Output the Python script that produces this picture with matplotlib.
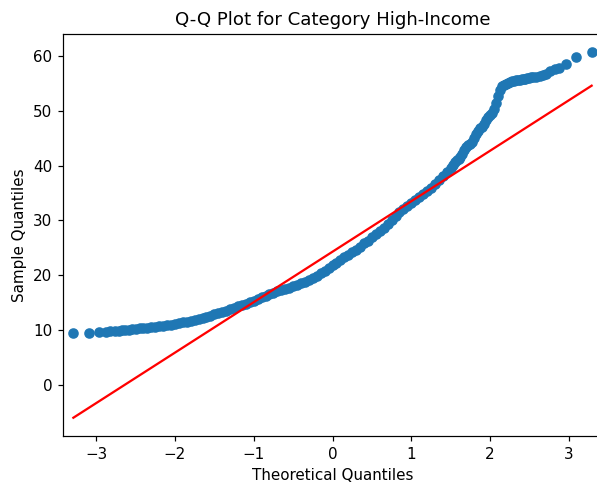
import numpy as np
import matplotlib
matplotlib.use("Agg")
import matplotlib.pyplot as plt

# Theoretical (standard normal) quantiles and the matching sorted sample values
theoretical_q = [
    -3.29, -3.09, -2.97, -2.88, -2.82, -2.76, -2.71, -2.67, -2.63, -2.59,
    -2.55, -2.50, -2.45, -2.40, -2.35, -2.30, -2.25, -2.20, -2.15, -2.10,
    -2.05, -2.00, -1.95, -1.90, -1.85, -1.80, -1.75, -1.70, -1.65, -1.60,
    -1.55, -1.50, -1.45, -1.40, -1.35, -1.30, -1.25, -1.20, -1.15, -1.10,
    -1.05, -1.00, -0.95, -0.90, -0.85, -0.80, -0.75, -0.70, -0.65, -0.60,
    -0.55, -0.50, -0.45, -0.40, -0.35, -0.30, -0.25, -0.20, -0.15, -0.10,
    -0.05, 0.00, 0.05, 0.10, 0.15, 0.20, 0.25, 0.30, 0.35, 0.40,
    0.45, 0.50, 0.55, 0.60, 0.65, 0.70, 0.75, 0.80, 0.85, 0.90,
    0.95, 1.00, 1.05, 1.10, 1.15, 1.20, 1.25, 1.30, 1.35, 1.40,
    1.45, 1.500, 1.525, 1.550, 1.575, 1.600, 1.625, 1.650, 1.675, 1.700,
    1.725, 1.750, 1.775, 1.800, 1.825, 1.850, 1.875, 1.900, 1.925, 1.950,
    1.975, 2.000, 2.025, 2.050, 2.075, 2.100, 2.125, 2.150, 2.175, 2.200,
    2.225, 2.250, 2.275, 2.300, 2.325, 2.350, 2.375, 2.400, 2.425, 2.450,
    2.475, 2.500, 2.525, 2.550, 2.59, 2.63, 2.67, 2.71, 2.76, 2.82,
    2.88, 2.97, 3.09, 3.29,
]

sample_q = [
    9.50, 9.50, 9.65, 9.70, 9.75, 9.80, 9.90, 9.95, 10.00, 10.10,
    10.15, 10.20, 10.30, 10.35, 10.45, 10.50, 10.60, 10.70, 10.80, 10.90,
    11.00, 11.10, 11.25, 11.40, 11.55, 11.70, 11.90, 12.05, 12.25, 12.45,
    12.65, 12.85, 13.05, 13.30, 13.55, 13.80, 14.05, 14.30, 14.55, 14.80,
    15.05, 15.30, 15.60, 15.95, 16.30, 16.60, 16.85, 17.10, 17.30, 17.50,
    17.75, 18.00, 18.25, 18.50, 18.80, 19.10, 19.50, 19.90, 20.35, 20.80,
    21.30, 21.80, 22.30, 22.75, 23.25, 23.70, 24.20, 24.70, 25.25, 25.80,
    26.30, 26.90, 27.50, 28.10, 28.70, 29.40, 30.10, 30.80, 31.50, 32.10,
    32.70, 33.20, 33.70, 34.30, 34.80, 35.40, 36.00, 36.70, 37.40, 38.10,
    38.80, 39.50, 40.10, 40.60, 41.00, 41.30, 41.60, 42.20, 42.90, 43.50,
    43.80, 44.00, 44.40, 45.10, 45.80, 46.40, 46.80, 47.10, 47.60, 48.30,
    48.90, 49.30, 49.60, 50.30, 51.50, 52.70, 53.80, 54.50, 54.80, 55.00,
    55.15, 55.30, 55.40, 55.50, 55.60, 55.65, 55.70, 55.80, 55.85, 55.90,
    56.00, 56.00, 56.10, 56.15, 56.25, 56.40, 56.55, 56.80, 57.20, 57.60,
    57.90, 58.50, 59.90, 60.70,
]

# Standardized reference line: sample mean + sample std * z
line_mean = 24.3
line_std = 9.21

DPI = 108.7
fig = plt.figure(figsize=(597 / DPI, 486 / DPI), dpi=DPI)
ax = fig.add_axes([63 / 597, 50 / 486, 539 / 597, 402 / 486])

x = np.asarray(theoretical_q)
y = np.asarray(sample_q)
ax.plot(x, y, marker="o", linestyle="none", color="#1f77b4")

x_end = np.array([x.min(), x.max()])
ax.plot(x_end, line_mean + line_std * x_end, color="red", linestyle="-")

ax.set_xmargin(0.02)
ax.set_xlabel("Theoretical Quantiles")
ax.set_ylabel("Sample Quantiles")
ax.set_title("Q-Q Plot for Category High-Income")

fig.savefig("out.png", dpi=DPI)
